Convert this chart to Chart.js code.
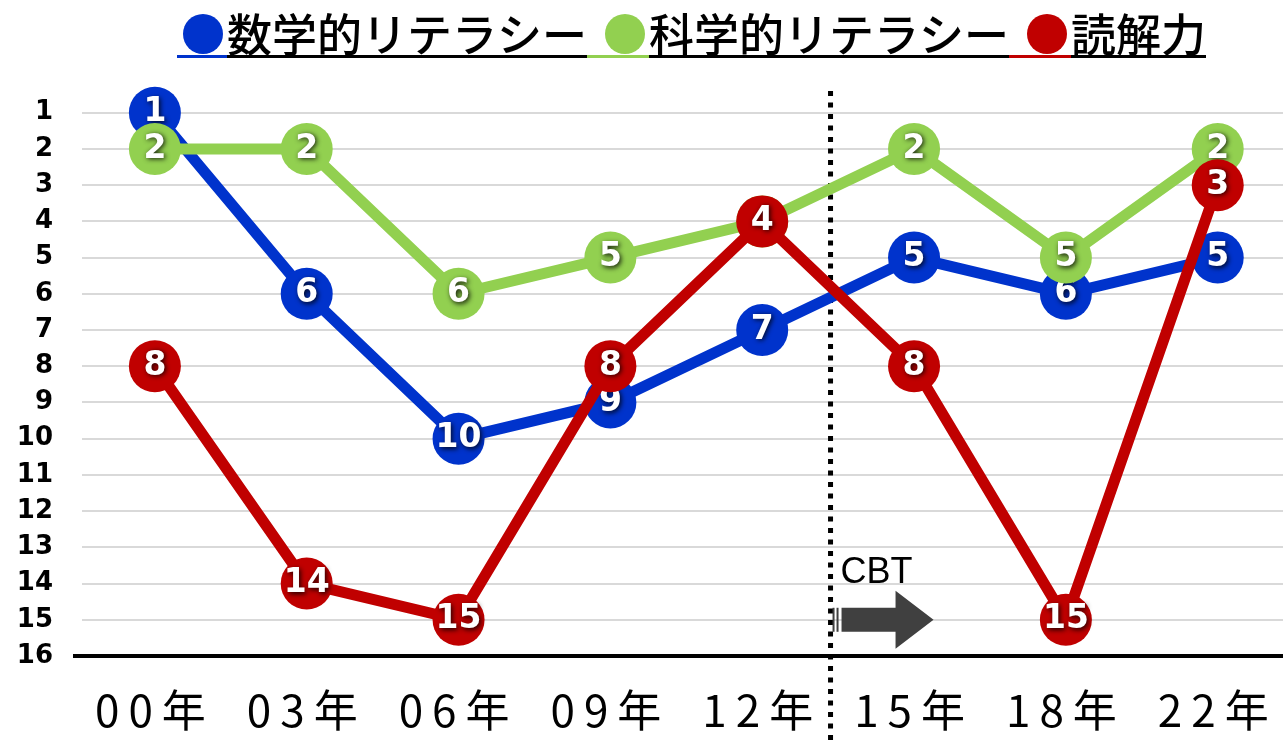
<!DOCTYPE html>
<html lang="ja">
<head>
<meta charset="utf-8">
<title>PISA 日本の順位の推移</title>
<script src="https://cdn.jsdelivr.net/npm/chart.js@4.4.1/dist/chart.umd.min.js"></script>
<style>
  html, body { margin: 0; padding: 0; background: #fff; }
  canvas { display: block; }
</style>
</head>
<body>
<canvas id="rankChart" width="1283" height="741"></canvas>
<script>
const years = ["00年", "03年", "06年", "09年", "12年", "15年", "18年", "22年"];
const mathRank = [1, 6, 10, 9, 7, 5, 6, 5];
const scienceRank = [2, 2, 6, 5, 4, 2, 5, 2];
const readingRank = [8, 14, 15, 8, 4, 8, 15, 3];
const rankTicks = [1, 2, 3, 4, 5, 6, 7, 8, 9, 10, 11, 12, 13, 14, 15, 16];
const seriesNames = ["数学的リテラシー", "科学的リテラシー", "読解力"];
const seriesColors = ["#0033cc", "#92d050", "#c00000"];
const cbtAt = 4.45; // where the CBT switch line sits, between 12 and 15

function series(i, values, order) {
  return {
    label: seriesNames[i],
    data: values.map((v, k) => ({ x: k, y: v })),
    borderColor: seriesColors[i],
    backgroundColor: seriesColors[i],
    pointBackgroundColor: seriesColors[i],
    borderWidth: 11,
    pointRadius: 26,
    pointBorderWidth: 0,
    tension: 0,
    clip: false,
    order: order,
  };
}

const rankDecor = {
  id: "rankDecor",
  beforeDatasetsDraw(chart) {
    const { ctx, chartArea, scales: { x, y } } = chart;
    ctx.save();
    // bottom axis line
    const yb = y.getPixelForValue(16);
    ctx.strokeStyle = "#000";
    ctx.lineWidth = 4;
    ctx.beginPath();
    ctx.moveTo(chartArea.left - 9, yb);
    ctx.lineTo(chartArea.right, yb);
    ctx.stroke();

    // CBT dotted line
    const xc = x.getPixelForValue(cbtAt);
    ctx.lineWidth = 5;
    ctx.setLineDash([5, 6.5]);
    ctx.beginPath();
    ctx.moveTo(xc, chartArea.top);
    ctx.lineTo(xc, chart.height);
    ctx.stroke();
    ctx.setLineDash([]);

    // CBT label + arrow
    const ya = y.getPixelForValue(15);
    ctx.fillStyle = "#000";
    ctx.font = '36px "Liberation Sans"';
    ctx.textAlign = "left";
    ctx.textBaseline = "alphabetic";
    ctx.fillText("CBT", xc + 10, ya - 37);

    ctx.fillStyle = "#404040";
    ctx.fillRect(xc + 2, ya - 12, 2, 24);
    ctx.fillRect(xc + 6, ya - 12, 2, 24);
    ctx.beginPath();
    ctx.moveTo(xc + 11, ya - 12);
    ctx.lineTo(xc + 65, ya - 12);
    ctx.lineTo(xc + 65, ya - 29);
    ctx.lineTo(xc + 103, ya);
    ctx.lineTo(xc + 65, ya + 29);
    ctx.lineTo(xc + 65, ya + 12);
    ctx.lineTo(xc + 11, ya + 12);
    ctx.closePath();
    ctx.fill();
    ctx.restore();
  },
  afterDatasetDraw(chart, args) {
    const { ctx } = chart;
    const ds = chart.data.datasets[args.index];
    ctx.save();
    ctx.font = 'bold 33px "DejaVu Sans"';
    ctx.textAlign = "center";
    ctx.textBaseline = "middle";
    ctx.fillStyle = "#fff";
    ctx.shadowColor = "rgba(0,0,0,0.85)";
    ctx.shadowBlur = 5;
    ctx.shadowOffsetX = 1.5;
    ctx.shadowOffsetY = 1.5;
    args.meta.data.forEach((pt, k) => {
      ctx.fillText(String(ds.data[k].y), pt.x, pt.y);
    });
    ctx.restore();
  },
  afterDraw(chart) {
    const { ctx, scales: { x } } = chart;
    ctx.save();
    // year labels
    ctx.font = '44px "Noto Sans CJK JP"';
    ctx.fillStyle = "#000";
    ctx.textAlign = "center";
    ctx.textBaseline = "alphabetic";
    ctx.letterSpacing = "9px";
    years.forEach((label, k) => {
      ctx.fillText(label, x.getPixelForValue(k), 727);
    });
    ctx.letterSpacing = "0px";

    // legend
    ctx.font = '500 45px "Noto Sans CJK JP"';
    ctx.textAlign = "left";
    let segX = 177;
    seriesNames.forEach((name, i) => {
      const textX = segX + (i === 0 ? 50 : 62);
      ctx.fillStyle = seriesColors[i];
      ctx.beginPath();
      ctx.arc(textX - 24, 34, 20, 0, Math.PI * 2);
      ctx.fill();
      ctx.fillRect(segX, 55, textX - segX, 3);
      ctx.fillStyle = "#000";
      ctx.fillText(name, textX, 52);
      const textEnd = textX + ctx.measureText(name).width;
      ctx.fillRect(textX, 55, textEnd - textX, 3);
      segX = textEnd;
    });
    ctx.restore();
  },
};

new Chart(document.getElementById("rankChart").getContext("2d"), {
  type: "line",
  data: {
    datasets: [
      series(0, mathRank, 3),
      series(1, scienceRank, 2),
      series(2, readingRank, 1),
    ],
  },
  options: {
    responsive: false,
    animation: false,
    events: [],
    layout: { autoPadding: false, padding: { top: 91, bottom: 85, left: 0, right: 0 } },
    plugins: { legend: { display: false }, tooltip: { enabled: false } },
    scales: {
      x: {
        type: "linear",
        min: -0.48,
        max: 7.43,
        grid: { display: false },
        border: { display: false },
        ticks: { display: false },
        afterBuildTicks: (axis) => { axis.ticks = years.map((_, k) => ({ value: k })); },
        afterFit: (axis) => { axis.height = 0; },
      },
      y: {
        reverse: true,
        min: 0.4,
        max: 16,
        afterBuildTicks: (axis) => { axis.ticks = rankTicks.map((v) => ({ value: v })); },
        afterFit: (axis) => { axis.width = 82; },
        grid: { color: "#d9d9d9", lineWidth: 2, drawTicks: false },
        border: { display: false },
        ticks: {
          padding: 29,
          color: "#000",
          font: { family: "DejaVu Sans", size: 26, weight: "bold" },
        },
      },
    },
  },
  plugins: [rankDecor],
});
</script>
</body>
</html>
